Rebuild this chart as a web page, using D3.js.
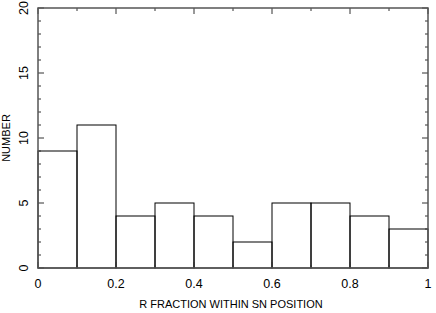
<!DOCTYPE html>
<html>
<head>
<meta charset="utf-8">
<script src="https://cdn.jsdelivr.net/npm/d3@7"></script>
<style>
  body { margin: 0; background: #fff; }
  text { font-family: "Liberation Sans", Arial, sans-serif; fill: #000; }
</style>
</head>
<body>
<svg id="chart" width="436" height="313"></svg>
<script>
// bin edges and counts per bin
var binEdges = [0, 0.1, 0.2, 0.3, 0.4, 0.5, 0.6, 0.7, 0.8, 0.9, 1.0];
var counts = [9, 11, 4, 5, 4, 2, 5, 5, 4, 3];
var xTicks = [0, 0.2, 0.4, 0.6, 0.8, 1];
var yTicks = [0, 5, 10, 15, 20];

var margin = {top: 8, right: 8, bottom: 45, left: 38},
    width = 436 - margin.left - margin.right,
    height = 313 - margin.top - margin.bottom;

var svg = d3.select("#chart");
var g = svg.append("g")
    .attr("transform", "translate(" + margin.left + "," + margin.top + ")");

var x = d3.scaleLinear().domain([0, 1]).range([0, width]);
var y = d3.scaleLinear().domain([0, 20]).range([height, 0]);

// histogram bars
g.selectAll("rect.bar")
    .data(counts)
    .enter().append("rect")
        .attr("class", "bar")
        .attr("x", function(d, i) { return x(binEdges[i]); })
        .attr("y", function(d) { return y(d); })
        .attr("width", function(d, i) { return x(binEdges[i+1]) - x(binEdges[i]); })
        .attr("height", function(d) { return height - y(d); })
        .attr("fill", "none")
        .attr("stroke", "#000")
        .attr("stroke-width", 1);

// inward ticks on all four sides
var xMinor = d3.range(0, 1.0001, 0.1);
var yMinor = d3.range(0, 20.0001, 1);
function isMajorX(v) { return Math.abs(v * 5 - Math.round(v * 5)) < 1e-6; }
function isMajorY(v) { return v % 5 === 0; }

var ticks = g.append("g").attr("stroke", "#333").attr("stroke-width", 1);
xMinor.forEach(function(v) {
    var len = isMajorX(v) ? 6 : 3;
    ticks.append("line").attr("x1", x(v)).attr("x2", x(v)).attr("y1", height).attr("y2", height - len);
    ticks.append("line").attr("x1", x(v)).attr("x2", x(v)).attr("y1", 0).attr("y2", len);
});
yMinor.forEach(function(v) {
    var len = isMajorY(v) ? 6 : 3;
    ticks.append("line").attr("x1", 0).attr("x2", len).attr("y1", y(v)).attr("y2", y(v));
    ticks.append("line").attr("x1", width).attr("x2", width - len).attr("y1", y(v)).attr("y2", y(v));
});

// frame
g.append("rect")
    .attr("x", 0).attr("y", 0)
    .attr("width", width).attr("height", height)
    .attr("fill", "none")
    .attr("stroke", "#555")
    .attr("stroke-width", 1.5);

// tick labels
g.selectAll("text.xt")
    .data(xTicks)
    .enter().append("text")
        .attr("class", "xt")
        .attr("x", function(d) { return x(d); })
        .attr("y", height + 20)
        .attr("text-anchor", "middle")
        .style("font-size", "12.5px")
        .text(function(d) { return d3.format("")(d); });

g.selectAll("text.yt")
    .data(yTicks)
    .enter().append("text")
        .attr("class", "yt")
        .attr("transform", function(d) { return "translate(-10," + y(d) + ") rotate(-90)"; })
        .attr("text-anchor", "middle")
        .style("font-size", "12.5px")
        .text(function(d) { return d; });

// axis titles
svg.append("text")
    .attr("x", 231)
    .attr("y", 308)
    .attr("text-anchor", "middle")
    .style("font-size", "11px")
    .text("R FRACTION WITHIN SN POSITION");

svg.append("text")
    .attr("transform", "translate(10," + (margin.top + height / 2) + ") rotate(-90)")
    .attr("text-anchor", "middle")
    .style("font-size", "11px")
    .text("NUMBER");
</script>
</body>
</html>
